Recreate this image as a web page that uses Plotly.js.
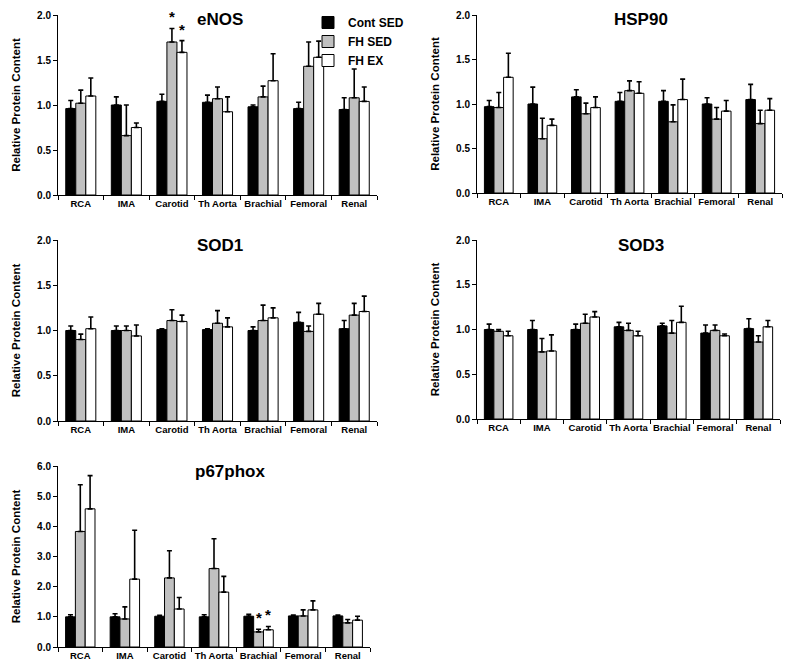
<!DOCTYPE html>
<html>
<head>
<meta charset="utf-8">
<script src="https://cdn.plot.ly/plotly-3.0.1.min.js"></script>
<style>html,body{margin:0;padding:0;background:#fff;}#chart{width:800px;height:670px;}</style>
</head>
<body>
<div id="chart"></div>
<script>
// ---------- data ----------
const categories = ['RCA', 'IMA', 'Carotid', 'Th Aorta', 'Brachial', 'Femoral', 'Renal'];
const seriesNames = ['Cont SED', 'FH SED', 'FH EX'];

// eNOS
const eNOS_contSED = [0.96, 1.00, 1.04, 1.03, 0.98, 0.96, 0.95];
const eNOS_fhSED   = [1.02, 0.66, 1.70, 1.07, 1.09, 1.43, 1.08];
const eNOS_fhEX    = [1.10, 0.75, 1.585, 0.925, 1.27, 1.53, 1.04];
const eNOS_contSED_err = [0.09, 0.09, 0.08, 0.08, 0.02, 0.07, 0.13];
const eNOS_fhSED_err   = [0.145, 0.34, 0.15, 0.13, 0.12, 0.27, 0.32];
const eNOS_fhEX_err    = [0.20, 0.05, 0.13, 0.165, 0.30, 0.18, 0.16];

// HSP90
const HSP90_contSED = [0.97, 1.00, 1.08, 1.03, 1.03, 1.00, 1.05];
const HSP90_fhSED   = [0.96, 0.61, 0.89, 1.15, 0.80, 0.83, 0.78];
const HSP90_fhEX    = [1.30, 0.76, 0.96, 1.12, 1.05, 0.92, 0.93];
const HSP90_contSED_err = [0.07, 0.19, 0.08, 0.10, 0.12, 0.07, 0.17];
const HSP90_fhSED_err   = [0.17, 0.23, 0.12, 0.11, 0.19, 0.13, 0.15];
const HSP90_fhEX_err    = [0.27, 0.07, 0.12, 0.13, 0.23, 0.12, 0.13];

// SOD1
const SOD1_contSED = [1.00, 1.00, 1.01, 1.01, 1.00, 1.09, 1.02];
const SOD1_fhSED   = [0.90, 1.00, 1.11, 1.08, 1.11, 0.99, 1.17];
const SOD1_fhEX    = [1.02, 0.94, 1.10, 1.04, 1.14, 1.18, 1.21];
const SOD1_contSED_err = [0.05, 0.05, 0.01, 0.01, 0.04, 0.11, 0.09];
const SOD1_fhSED_err   = [0.06, 0.05, 0.12, 0.14, 0.17, 0.06, 0.13];
const SOD1_fhEX_err    = [0.13, 0.12, 0.07, 0.10, 0.11, 0.12, 0.17];

// SOD3
const SOD3_contSED = [1.00, 1.00, 1.00, 1.03, 1.04, 0.96, 1.01];
const SOD3_fhSED   = [0.98, 0.75, 1.07, 0.99, 0.96, 0.99, 0.86];
const SOD3_fhEX    = [0.93, 0.76, 1.14, 0.93, 1.08, 0.93, 1.03];
const SOD3_contSED_err = [0.06, 0.10, 0.06, 0.05, 0.03, 0.09, 0.11];
const SOD3_fhSED_err   = [0.02, 0.15, 0.10, 0.08, 0.14, 0.06, 0.07];
const SOD3_fhEX_err    = [0.05, 0.18, 0.06, 0.05, 0.18, 0.02, 0.07];

// p67phox
const p67_contSED = [1.00, 1.00, 1.02, 1.00, 1.02, 1.03, 1.03];
const p67_fhSED   = [3.83, 0.93, 2.29, 2.60, 0.50, 1.03, 0.80];
const p67_fhEX    = [4.58, 2.25, 1.26, 1.82, 0.57, 1.23, 0.89];
const p67_contSED_err = [0.07, 0.10, 0.03, 0.07, 0.06, 0.03, 0.03];
const p67_fhSED_err   = [1.55, 0.40, 0.90, 0.99, 0.09, 0.20, 0.11];
const p67_fhEX_err    = [1.10, 1.62, 0.38, 0.52, 0.11, 0.30, 0.13];

// significance markers: [panel, category, series index]
const sigMarks = [
  ['eNOS', 'Carotid', 1], ['eNOS', 'Carotid', 2],
  ['p67phox', 'Brachial', 1], ['p67phox', 'Brachial', 2]
];

// ---------- layout helpers ----------
const W = 800, H = 670;
const FONT = 'Liberation Sans, Arial, sans-serif';
const colors = ['#000000', '#c0c0c0', '#ffffff'];
const BARGAP = 0.34;

// panel boxes in pixels: [left, right, top, bottom]
const panels = [
  {name: 'eNOS',    vals: [eNOS_contSED, eNOS_fhSED, eNOS_fhEX], errs: [eNOS_contSED_err, eNOS_fhSED_err, eNOS_fhEX_err], box: [58, 377, 15, 195], ymax: 2, dtick: 0.5, titleX: 220, titleY: 20},
  {name: 'HSP90',   vals: [HSP90_contSED, HSP90_fhSED, HSP90_fhEX], errs: [HSP90_contSED_err, HSP90_fhSED_err, HSP90_fhEX_err], box: [477, 782, 15, 193], ymax: 2, dtick: 0.5, titleX: 641, titleY: 20},
  {name: 'SOD1',    vals: [SOD1_contSED, SOD1_fhSED, SOD1_fhEX], errs: [SOD1_contSED_err, SOD1_fhSED_err, SOD1_fhEX_err], box: [58, 377, 240, 421], ymax: 2, dtick: 0.5, titleX: 220, titleY: 245},
  {name: 'SOD3',    vals: [SOD3_contSED, SOD3_fhSED, SOD3_fhEX], errs: [SOD3_contSED_err, SOD3_fhSED_err, SOD3_fhEX_err], box: [477, 780, 240, 419], ymax: 2, dtick: 0.5, titleX: 641, titleY: 245},
  {name: 'p67phox', vals: [p67_contSED, p67_fhSED, p67_fhEX], errs: [p67_contSED_err, p67_fhSED_err, p67_fhEX_err], box: [58, 370, 466, 647], ymax: 6, dtick: 1, titleX: 230, titleY: 472}
];

const data = [];
const layout = {
  width: W, height: H,
  margin: {l: 0, r: 0, t: 0, b: 0},
  paper_bgcolor: '#ffffff', plot_bgcolor: '#ffffff',
  barmode: 'group', bargap: BARGAP, bargroupgap: 0,
  showlegend: true,
  legend: {
    x: 308 / W, y: 1 - 8 / H, xanchor: 'left', yanchor: 'top',
    bgcolor: 'rgba(0,0,0,0)', borderwidth: 0,
    font: {family: FONT, size: 12, color: '#000', weight: 'bold'},
    itemwidth: 30, tracegroupgap: 0
  },
  annotations: [],
  font: {family: FONT, color: '#000'}
};

panels.forEach((p, i) => {
  const n = i + 1;
  const xa = 'x' + (n === 1 ? '' : n), ya = 'y' + (n === 1 ? '' : n);
  const xk = 'xaxis' + (n === 1 ? '' : n), yk = 'yaxis' + (n === 1 ? '' : n);
  const [l, r, t, b] = p.box;
  layout[xk] = {
    domain: [l / W, r / W], anchor: ya,
    type: 'category', categoryorder: 'array', categoryarray: categories,
    range: [-0.5, categories.length - 0.5],
    showline: true, linecolor: '#000', linewidth: 1,
    ticks: 'outside', tickson: 'boundaries', ticklen: 4, tickwidth: 1, tickcolor: '#000',
    tickangle: 0,
    tickfont: {family: FONT, size: 9.5, color: '#000', weight: 'bold'},
    showgrid: false, zeroline: false, fixedrange: true
  };
  layout[yk] = {
    domain: [1 - b / H, 1 - t / H], anchor: xa,
    range: [0, p.ymax], dtick: p.dtick, tick0: 0, tickformat: '.1f',
    showline: true, linecolor: '#000', linewidth: 1,
    ticks: 'outside', ticklen: 4, tickwidth: 1, tickcolor: '#000',
    tickfont: {family: FONT, size: 10, color: '#000', weight: 'bold'},
    showgrid: false, zeroline: false, fixedrange: true,
    title: {text: 'Relative Protein Content', standoff: 14,
            font: {family: FONT, size: 11.5, color: '#000', weight: 'bold'}}
  };
  p.vals.forEach((v, s) => {
    data.push({
      type: 'bar', x: categories, y: v, name: seriesNames[s],
      xaxis: xa, yaxis: ya, legendgroup: seriesNames[s], showlegend: i === 0,
      marker: {color: colors[s], line: {color: '#000', width: 1}},
      error_y: {type: 'data', symmetric: false, array: p.errs[s], arrayminus: v.map(() => 0),
                color: '#000', thickness: 1.6, width: 2.5, visible: true},
      hoverinfo: 'x+y+name'
    });
  });
  layout.annotations.push({
    xref: 'paper', yref: 'paper', x: p.titleX / W, y: 1 - p.titleY / H,
    xanchor: 'center', yanchor: 'middle', showarrow: false, text: p.name,
    font: {family: FONT, size: 17, color: '#000', weight: 'bold'}
  });
  // significance stars
  const catW = (r - l) / categories.length;
  const barW = catW * (1 - BARGAP) / 3;
  sigMarks.filter(m => m[0] === p.name).forEach(m => {
    const ci = categories.indexOf(m[1]);
    const s = m[2];
    layout.annotations.push({
      xref: xa, yref: ya, x: m[1], y: p.vals[s][ci] + p.errs[s][ci],
      xshift: (s - 1) * barW, yshift: 1,
      xanchor: 'center', yanchor: 'bottom', showarrow: false, text: '*',
      font: {family: FONT, size: 15, color: '#000', weight: 'bold'}
    });
  });
});

Plotly.newPlot('chart', data, layout, {displayModeBar: false, staticPlot: true});
</script>
</body>
</html>
